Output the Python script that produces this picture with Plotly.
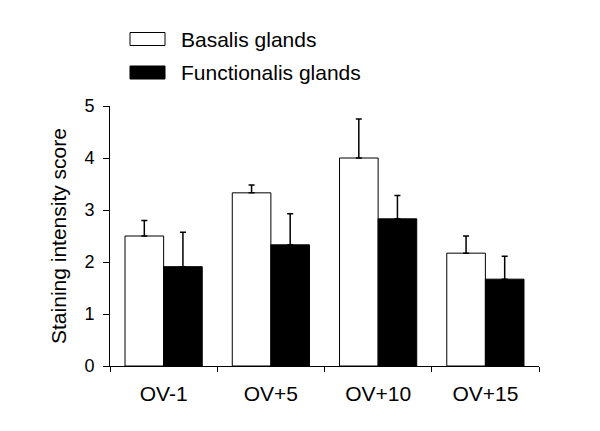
import plotly.graph_objects as go

categories = ["OV-1", "OV+5", "OV+10", "OV+15"]
basalis = [2.5, 3.33, 4.0, 2.17]
basalis_err = [0.30, 0.15, 0.75, 0.33]
functionalis = [1.91, 2.33, 2.83, 1.67]
functionalis_err = [0.66, 0.60, 0.45, 0.44]
series_names = ["Basalis glands", "Functionalis glands"]
y_ticks = [0, 1, 2, 3, 4, 5]

FONT = "Liberation Sans, Arial, Helvetica, sans-serif"

fig = go.Figure()
fig.add_trace(go.Bar(
    x=categories, y=basalis, name=series_names[0],
    marker=dict(color="white", line=dict(color="black", width=1)),
    error_y=dict(type="data", array=basalis_err, arrayminus=[0]*4, symmetric=False,
                 color="black", thickness=1.5, width=3),
))
fig.add_trace(go.Bar(
    x=categories, y=functionalis, name=series_names[1],
    marker=dict(color="black", line=dict(color="black", width=1)),
    error_y=dict(type="data", array=functionalis_err, arrayminus=[0]*4, symmetric=False,
                 color="black", thickness=1.5, width=3),
))

W, H = 600, 431
L, R, T, B = 110, 61, 106, 65
pw, ph = W - L - R, H - T - B

def px2paper(x, y):
    return (x - L) / pw, (H - B - y) / ph

shapes = []
annotations = []
legend_rows = [(series_names[0], "white", 32.5, 45.5, 39.5), (series_names[1], "black", 66, 79, 72.5)]
for name, col, y0, y1, yc in legend_rows:
    x0p, y1p = px2paper(130, y0)
    x1p, y0p = px2paper(165, y1)
    shapes.append(dict(type="rect", xref="paper", yref="paper", x0=x0p, x1=x1p, y0=y0p, y1=y1p,
                       fillcolor=col, line=dict(color="black", width=1)))
    tx, ty = px2paper(179, yc)
    annotations.append(dict(text=name, xref="paper", yref="paper", x=tx, y=ty, xanchor="left",
                            yanchor="middle", showarrow=False, font=dict(size=21, color="black", family=FONT)))

fig.update_layout(
    width=W, height=H,
    margin=dict(l=L, r=R, t=T, b=B),
    paper_bgcolor="white", plot_bgcolor="white",
    barmode="group", bargap=0.28, bargroupgap=0,
    showlegend=False,
    font=dict(family=FONT, color="black"),
    shapes=shapes, annotations=annotations,
)
fig.update_xaxes(
    showline=True, linecolor="black", linewidth=1,
    ticks="outside", tickson="boundaries", ticklen=5, tickcolor="black",
    tickfont=dict(size=21), ticklabelstandoff=9, showgrid=False, zeroline=False,
)
fig.update_yaxes(
    range=[0, 5], tickvals=y_ticks, showline=True, linecolor="black", linewidth=1,
    ticks="outside", ticklen=6, tickcolor="black", tickfont=dict(size=18),
    ticklabelstandoff=5,
    showgrid=False, zeroline=False,
    title=dict(text="Staining intensity score", font=dict(size=21), standoff=12),
)

fig.write_html("out.html", config={"displayModeBar": False},
               post_script="document.body.style.margin='0';document.body.style.padding='0';")
